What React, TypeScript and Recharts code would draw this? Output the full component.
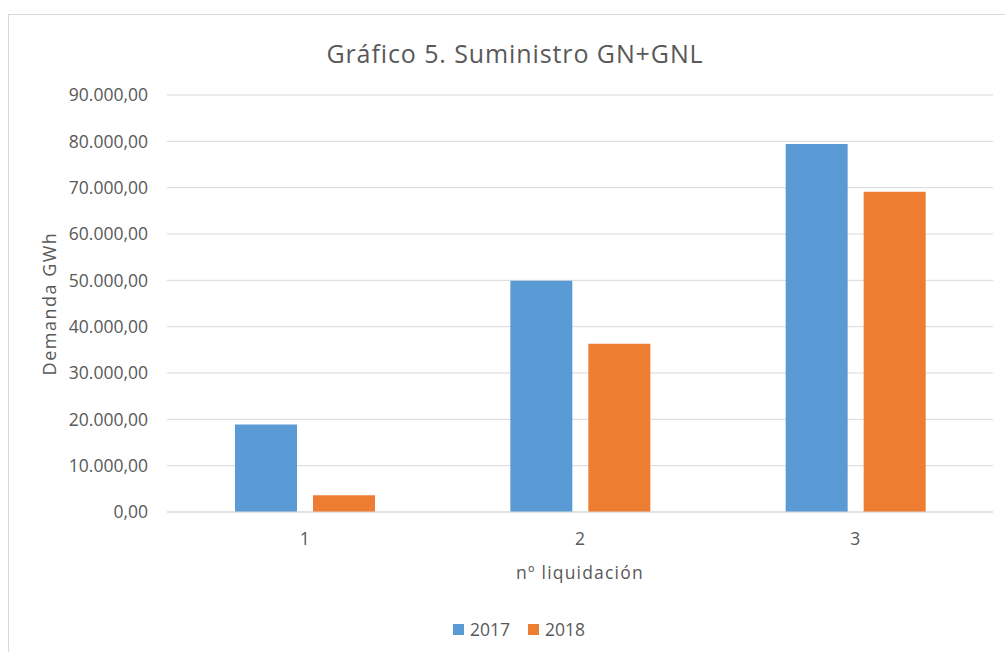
import React from 'react';
import {
  BarChart,
  Bar,
  XAxis,
  YAxis,
  CartesianGrid,
  Legend,
} from 'recharts';

const categories = ['1', '2', '3'];
const values2017 = [18900, 49900, 79400];
const values2018 = [3600, 36300, 69100];
const yTicks = [0, 10000, 20000, 30000, 40000, 50000, 60000, 70000, 80000, 90000];
const seriesNames = ['2017', '2018'];

const BLUE = '#5B9BD5';
const ORANGE = '#ED7D31';
const TEXT = '#595959';
const GRID = '#D9D9D9';
const FONT = '"Open Sans", sans-serif';

const chartData = categories.map((c, i) => ({
  name: c,
  y2017: values2017[i],
  y2018: values2018[i],
}));

// 90000 -> "90.000,00"
const formatEs = (v: number) => {
  const int = Math.floor(v).toString().replace(/\B(?=(\d{3})+(?!\d))/g, '.');
  return `${int},00`;
};

const LegendContent = () => (
  <div style={{ display: 'flex', alignItems: 'center', fontFamily: FONT, fontSize: 17.5, color: TEXT }}>
    {seriesNames.map((n, i) => (
      <div key={n} style={{ display: 'flex', alignItems: 'center', marginRight: i === 0 ? 18 : 0 }}>
        <span style={{ width: 11, height: 11, background: i === 0 ? BLUE : ORANGE, display: 'inline-block', marginRight: 6 }} />
        <span>{n}</span>
      </div>
    ))}
  </div>
);

export default function App() {
  return (
    <div
      style={{
        position: 'absolute',
        top: 0,
        left: 0,
        width: 1005,
        height: 652,
        overflow: 'hidden',
        background: '#fff',
        fontFamily: FONT,
      }}
    >
      {/* chart frame */}
      <div
        style={{
          position: 'absolute',
          left: 8,
          top: 14,
          width: 1100,
          height: 700,
          borderLeft: `1px solid ${GRID}`,
          borderTop: `1px solid ${GRID}`,
        }}
      />
      <svg width={1005} height={80} style={{ position: 'absolute', left: 0, top: 0 }}>
        <text x={515} y={63} textAnchor="middle" fontFamily={FONT} fontSize={25} letterSpacing={0.9} fill={TEXT}>
          Gráfico 5. Suministro GN+GNL
        </text>
      </svg>
      <div style={{ position: 'absolute', left: 0, top: 0 }}>
        <BarChart
          width={1005}
          height={652}
          data={chartData}
          margin={{ top: 95, right: 12, bottom: 60, left: 40 }}
          barSize={62}
          barGap={16}
        >
          <CartesianGrid vertical={false} stroke={GRID} />
          <XAxis
            dataKey="name"
            height={80}
            tickLine={false}
            axisLine={{ stroke: GRID }}
            tickMargin={15}
            tick={{ fontSize: 17.5, fill: TEXT, fontFamily: FONT }}
            label={{
              value: 'nº liquidación',
              position: 'insideTop',
              offset: 55,
              style: { fontSize: 17.5, fill: TEXT, fontFamily: FONT, letterSpacing: 1.2 },
            }}
          />
          <YAxis
            width={127}
            domain={[0, 90000]}
            ticks={yTicks}
            tickFormatter={formatEs}
            tickLine={false}
            axisLine={false}
            tickMargin={13}
            tick={{ fontSize: 17.5, fill: TEXT, fontFamily: FONT }}
            label={{
              value: 'Demanda GWh',
              angle: -90,
              position: 'insideLeft',
              offset: 10,
              style: { fontSize: 18, fill: TEXT, fontFamily: FONT, textAnchor: 'middle', letterSpacing: 1.5 },
            }}
          />
          <Legend
            verticalAlign="middle"
            align="center"
            content={<LegendContent />}
            wrapperStyle={{ top: 617, left: 453, width: 'auto' }}
          />
          <Bar dataKey="y2017" name="2017" fill={BLUE} isAnimationActive={false} />
          <Bar dataKey="y2018" name="2018" fill={ORANGE} isAnimationActive={false} />
        </BarChart>
      </div>
    </div>
  );
}
